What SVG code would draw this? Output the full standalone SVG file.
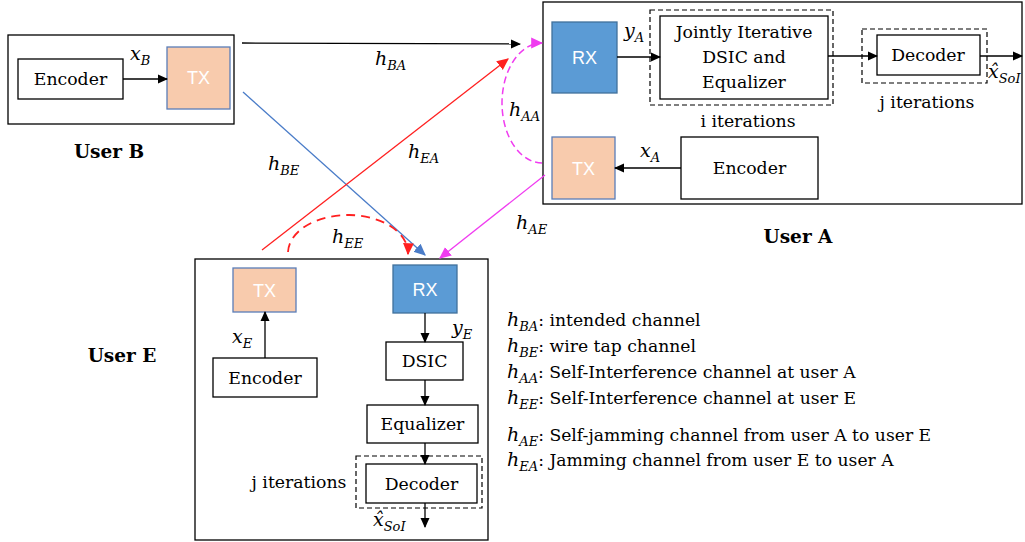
<svg xmlns="http://www.w3.org/2000/svg" width="1025" height="542" viewBox="0 0 1025 542">
<defs>
<style>
.box{fill:#fff;stroke:#000;stroke-width:1.3}
.frame{fill:#fff;stroke:#000;stroke-width:1.3}
.dash{fill:none;stroke:#000;stroke-width:1.2;stroke-dasharray:5 3}
.rx{fill:#5B9BD5;stroke:#41719C;stroke-width:1.3}
.tx{fill:#F8CBAD;stroke:#5A7DB8;stroke-width:1.3}
.t{font-family:'DejaVu Serif',serif;font-size:17.3px;fill:#000;text-anchor:middle}
.lg{font-family:'DejaVu Serif',serif;font-size:17.2px;fill:#000}
.b{font-family:'DejaVu Serif',serif;font-size:18.5px;font-weight:bold;fill:#000;text-anchor:middle}
.s{font-family:'Liberation Sans',sans-serif;font-size:18px;fill:#fff;text-anchor:middle}
.m{font-family:'DejaVu Serif',serif;font-style:italic;font-size:19px;fill:#000}
.ms{font-size:13px}
.ln{fill:none;stroke:#000;stroke-width:1.3}
</style>
<marker id="ak" markerWidth="10" markerHeight="10" viewBox="0 0 10 10" refX="9" refY="5" orient="auto" markerUnits="userSpaceOnUse"><path d="M0,0.5 L10,5 L0,9.5 Z" fill="#000"/></marker>
<marker id="ar" markerWidth="12" markerHeight="12" viewBox="0 0 10 10" refX="9" refY="5" orient="auto" markerUnits="userSpaceOnUse"><path d="M0,0.5 L10,5 L0,9.5 Z" fill="#FF2020"/></marker>
<marker id="ab" markerWidth="12" markerHeight="12" viewBox="0 0 10 10" refX="9" refY="5" orient="auto" markerUnits="userSpaceOnUse"><path d="M0,0.5 L10,5 L0,9.5 Z" fill="#4A7CC8"/></marker>
<marker id="am" markerWidth="12" markerHeight="12" viewBox="0 0 10 10" refX="9" refY="5" orient="auto" markerUnits="userSpaceOnUse"><path d="M0,0.5 L10,5 L0,9.5 Z" fill="#F03CF0"/></marker>
</defs>
<rect width="1025" height="542" fill="#fff"/>

<g id="userB">
<rect class="frame" x="8" y="35" width="226" height="89"/>
<g id="encB"><rect class="box" x="18" y="59" width="105" height="40"/><text class="t" x="70.5" y="85">Encoder</text></g>
<g id="txB"><rect class="tx" x="167" y="47" width="63" height="62"/><text class="s" x="198.5" y="84">TX</text></g>
<line class="ln" x1="123" y1="79" x2="167" y2="79" marker-end="url(#ak)"/>
<text class="m" x="130" y="60">x<tspan class="ms" dy="5">B</tspan></text>
<text class="b" x="109" y="158">User B</text>
</g>

<g id="userA">
<rect class="frame" x="543" y="2" width="479" height="202"/>
<g id="rxA"><rect class="rx" x="552" y="22" width="65" height="71"/><text class="s" x="584.5" y="64">RX</text></g>
<rect class="dash" x="650" y="10" width="183" height="95"/>
<g id="jointA"><rect class="box" x="660" y="16" width="168" height="83"/>
<text class="t" x="744" y="38">Jointly Iterative</text><text class="t" x="744" y="63">DSIC and</text><text class="t" x="744" y="88">Equalizer</text></g>
<rect class="dash" x="862" y="29" width="125" height="54"/>
<g id="decA"><rect class="box" x="877" y="35" width="103" height="40"/><text class="t" x="928" y="61">Decoder</text></g>
<g id="txA"><rect class="tx" x="552" y="137" width="63" height="62"/><text class="s" x="583.5" y="175">TX</text></g>
<g id="encA"><rect class="box" x="681" y="137" width="137" height="62"/><text class="t" x="749.5" y="174">Encoder</text></g>
<line class="ln" x1="617" y1="57" x2="660" y2="57" marker-end="url(#ak)"/>
<line class="ln" x1="828" y1="56" x2="877" y2="56" marker-end="url(#ak)"/>
<line class="ln" x1="980" y1="56" x2="1022" y2="56" marker-end="url(#ak)"/>
<line class="ln" x1="681" y1="168" x2="615" y2="168" marker-end="url(#ak)"/>
<text class="m" x="624" y="37">y<tspan class="ms" dy="5">A</tspan></text>
<text class="m" x="640" y="157">x<tspan class="ms" dy="5">A</tspan></text>
<text class="m" x="988" y="78">x̂<tspan class="ms" dy="5">SoI</tspan></text>
<text class="t" x="748" y="127">i iterations</text>
<text class="t" x="927" y="108">j iterations</text>
<text class="b" x="798" y="243">User A</text>
</g>

<g id="userE">
<rect class="frame" x="195" y="259" width="293" height="281"/>
<g id="txE"><rect class="tx" x="233" y="268" width="63" height="44"/><text class="s" x="264.5" y="297">TX</text></g>
<g id="rxE"><rect class="rx" x="393" y="265" width="64" height="48"/><text class="s" x="425" y="296">RX</text></g>
<g id="encE"><rect class="box" x="213" y="358" width="104" height="39"/><text class="t" x="265" y="384">Encoder</text></g>
<g id="dsicE"><rect class="box" x="386" y="342" width="77" height="38"/><text class="t" x="424.5" y="367">DSIC</text></g>
<g id="eqE"><rect class="box" x="367" y="405" width="111" height="38"/><text class="t" x="422.5" y="430">Equalizer</text></g>
<rect class="dash" x="356" y="456" width="126" height="52"/>
<g id="decE"><rect class="box" x="366" y="464" width="111" height="39"/><text class="t" x="421.5" y="490">Decoder</text></g>
<line class="ln" x1="265" y1="358" x2="265" y2="312" marker-end="url(#ak)"/>
<line class="ln" x1="425" y1="313" x2="425" y2="342" marker-end="url(#ak)"/>
<line class="ln" x1="425" y1="380" x2="425" y2="405" marker-end="url(#ak)"/>
<line class="ln" x1="425" y1="443" x2="425" y2="464" marker-end="url(#ak)"/>
<line class="ln" x1="425" y1="503" x2="425" y2="527" marker-end="url(#ak)"/>
<text class="m" x="232" y="343">x<tspan class="ms" dy="5">E</tspan></text>
<text class="m" x="452" y="334">y<tspan class="ms" dy="5">E</tspan></text>
<text class="m" x="373" y="526">x̂<tspan class="ms" dy="5">SoI</tspan></text>
<text class="t" x="299" y="488">j iterations</text>
<text class="b" x="122" y="362">User E</text>
</g>

<g id="connectors">
<line x1="242" y1="43" x2="520" y2="44" stroke="#000" stroke-width="1.3" marker-end="url(#ak)"/>
<line x1="243" y1="92" x2="425" y2="255" stroke="#4A7CC8" stroke-width="1.3" marker-end="url(#ab)"/>
<line x1="262" y1="250" x2="508" y2="59" stroke="#FF2020" stroke-width="1.3" marker-end="url(#ar)"/>
<path d="M288,252 A60,38 0 0 1 408,254" fill="none" stroke="#FF2020" stroke-width="1.8" stroke-dasharray="9 6" marker-end="url(#ar)"/>
<path d="M542,163 A40,60 0 0 1 542,43" fill="none" stroke="#F03CF0" stroke-width="1.5" stroke-dasharray="7 4" marker-end="url(#am)"/>
<line x1="545" y1="175" x2="440" y2="258" stroke="#F03CF0" stroke-width="1.3" marker-end="url(#am)"/>
<text class="m" x="375" y="65">h<tspan class="ms" dy="5">BA</tspan></text>
<text class="m" x="268" y="170">h<tspan class="ms" dy="5">BE</tspan></text>
<text class="m" x="408" y="158">h<tspan class="ms" dy="5">EA</tspan></text>
<text class="m" x="332" y="243">h<tspan class="ms" dy="5">EE</tspan></text>
<text class="m" x="509" y="116">h<tspan class="ms" dy="5">AA</tspan></text>
<text class="m" x="516" y="229">h<tspan class="ms" dy="5">AE</tspan></text>
</g>

<g id="legend">
<text class="lg" x="507" y="326"><tspan class="m">h</tspan><tspan class="m ms" dy="5">BA</tspan><tspan dy="-5">: intended channel</tspan></text>
<text class="lg" x="507" y="352"><tspan class="m">h</tspan><tspan class="m ms" dy="5">BE</tspan><tspan dy="-5">: wire tap channel</tspan></text>
<text class="lg" x="507" y="378"><tspan class="m">h</tspan><tspan class="m ms" dy="5">AA</tspan><tspan dy="-5">: Self-Interference channel at user A</tspan></text>
<text class="lg" x="507" y="404"><tspan class="m">h</tspan><tspan class="m ms" dy="5">EE</tspan><tspan dy="-5">: Self-Interference channel at user E</tspan></text>
<text class="lg" x="507" y="441"><tspan class="m">h</tspan><tspan class="m ms" dy="5">AE</tspan><tspan dy="-5">: Self-jamming channel from user A to user E</tspan></text>
<text class="lg" x="507" y="466"><tspan class="m">h</tspan><tspan class="m ms" dy="5">EA</tspan><tspan dy="-5">: Jamming channel from user E to user A</tspan></text>
</g>
</svg>
